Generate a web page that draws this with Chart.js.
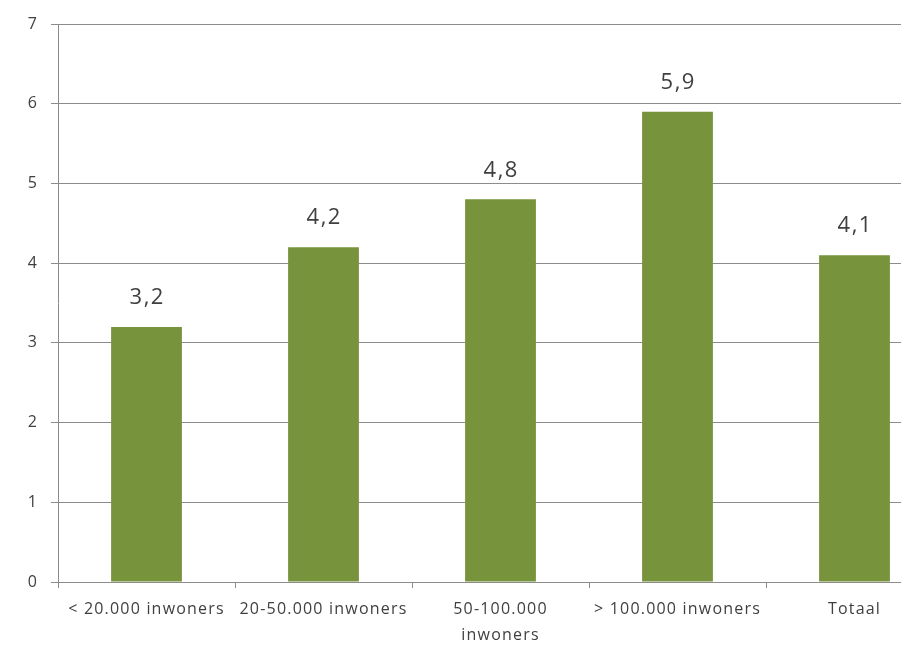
<!DOCTYPE html>
<html>
<head>
<meta charset="utf-8">
<script src="https://cdn.jsdelivr.net/npm/chart.js@4.4.1/dist/chart.umd.min.js"></script>
<style>
  html, body { margin: 0; padding: 0; background: #fff; overflow: hidden; }
  #wrap { width: 945px; height: 657px; }
</style>
</head>
<body>
<div id="wrap"><canvas id="barChart" width="945" height="657"></canvas></div>
<script>
// categorieën (gemeentegrootte) en gemiddelde waarden
const categories = ['< 20.000 inwoners', '20-50.000 inwoners', ['50-100.000', 'inwoners'], '> 100.000 inwoners', 'Totaal'];
const values = [3.2, 4.2, 4.8, 5.9, 4.1];
const yTicks = [0, 1, 2, 3, 4, 5, 6, 7];

// iets ruimere letterafstand voor de as-labels
const spacing = {
  id: 'spacing',
  beforeUpdate(chart) { chart.ctx.letterSpacing = '1.2px'; },
  beforeDraw(chart) { chart.ctx.letterSpacing = '1.2px'; }
};

// waarde boven elke staaf, met komma als decimaalteken
const valueLabels = {
  id: 'valueLabels',
  afterDatasetsDraw(chart) {
    const ctx = chart.ctx;
    const meta = chart.getDatasetMeta(0);
    ctx.save();
    ctx.letterSpacing = '1.5px';
    ctx.font = '22px "Open Sans"';
    ctx.fillStyle = '#404040';
    ctx.textAlign = 'center';
    ctx.textBaseline = 'middle';
    meta.data.forEach((bar, i) => {
      ctx.fillText(values[i].toFixed(1).replace('.', ','), bar.x + 0.75, bar.y - 29);
    });
    ctx.restore();
  }
};

const ctx = document.getElementById('barChart').getContext('2d');
const chart = new Chart(ctx, {
  type: 'bar',
  data: {
    labels: categories,
    datasets: [{
      data: values,
      backgroundColor: '#77933C',
      barPercentage: 0.4,
      categoryPercentage: 1
    }]
  },
  options: {
    responsive: false,
    animation: false,
    layout: { padding: { top: 24, right: 2, left: 0, bottom: 0 } },
    plugins: {
      legend: { display: false },
      tooltip: { enabled: false }
    },
    scales: {
      x: {
        afterFit(scale) { scale.height = 75; },
        grid: {
          offset: true,
          drawOnChartArea: false,
          drawTicks: true,
          tickLength: 6,
          color: '#8c8c8c'
        },
        border: { display: true, color: '#8c8c8c' },
        ticks: {
          color: '#404040',
          font: { family: '"Open Sans"', size: 16, lineHeight: 1.6 },
          padding: 9,
          maxRotation: 0,
          autoSkip: false
        }
      },
      y: {
        min: 0,
        max: 7,
        afterFit(scale) { scale.width = 58; },
        afterBuildTicks(scale) { scale.ticks = yTicks.map(v => ({ value: v })); },
        grid: {
          color: '#8c8c8c',
          drawTicks: true,
          tickLength: 7
        },
        border: { display: true, color: '#8c8c8c' },
        ticks: {
          color: '#404040',
          font: { family: '"Open Sans"', size: 16 },
          padding: 13
        }
      }
    }
  },
  plugins: [spacing, valueLabels]
});
</script>
</body>
</html>
